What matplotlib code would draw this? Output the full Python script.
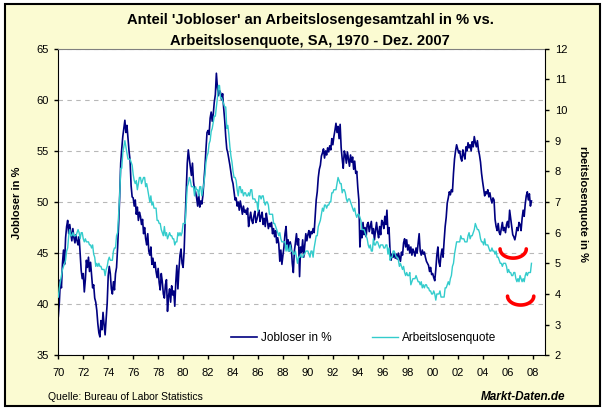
import numpy as np
import matplotlib
matplotlib.use('Agg')
import matplotlib.pyplot as plt
from matplotlib.patches import Rectangle
from matplotlib.transforms import Bbox, TransformedBbox

plt.rcParams['font.family'] = ['Liberation Sans', 'DejaVu Sans']

# Anteil 'Jobloser' an allen Arbeitslosen in %, monatlich Jan 1970 - Dez 2007
jobloser = [
    38.8, 40.2, 42.4, 41.6, 44.0, 45.3, 43.9, 46.5, 47.6, 48.2, 46.9, 47.8,  # 1970
    47.0, 46.2, 47.4, 46.5, 46.0, 46.8, 46.2, 45.8, 46.6, 44.9, 43.3, 42.5,  # 1971
    43.0, 41.2, 42.4, 44.3, 43.6, 44.6, 43.2, 44.1, 42.8, 41.6, 41.9, 40.6,  # 1972
    40.2, 39.4, 38.1, 37.2, 36.8, 38.4, 37.5, 39.2, 38.0, 37.0, 38.6, 40.1,  # 1973
    42.8, 43.7, 43.0, 41.5, 41.0, 42.2, 41.4, 43.0, 43.6, 45.5, 47.8, 50.5,  # 1974
    53.8, 55.2, 56.4, 57.2, 58.0, 56.8, 57.5, 56.2, 55.0, 54.1, 51.6, 50.5,  # 1975
    50.4, 49.6, 50.2, 48.8, 49.5, 48.2, 49.0, 48.6, 47.8, 48.3, 46.9, 47.5,  # 1976
    46.4, 45.8, 46.9, 45.2, 44.8, 45.6, 43.9, 44.5, 43.6, 44.1, 43.2, 42.6,  # 1977
    43.5, 42.1, 41.4, 43.0, 42.2, 41.0, 40.6, 41.9, 42.4, 39.3, 40.8, 41.5,  # 1978
    40.2, 41.8, 40.9, 41.3, 39.8, 42.2, 43.8, 41.5, 43.4, 44.8, 45.4, 44.0,  # 1979
    43.6, 45.2, 48.3, 51.0, 53.8, 55.1, 54.2, 53.4, 52.6, 53.8, 52.0, 51.2,  # 1980
    51.0, 50.4, 49.6, 50.8, 49.5, 50.1, 49.8, 50.6, 52.0, 53.4, 55.2, 56.8,  # 1981
    57.0, 56.6, 58.2, 58.8, 57.9, 58.6, 59.8, 60.5, 62.6, 61.2, 60.4, 60.9,  # 1982
    60.7, 60.0, 60.6, 59.2, 58.0, 56.4, 55.2, 54.8, 54.2, 53.6, 52.9, 52.2,  # 1983
    51.8, 51.0, 50.2, 50.4, 49.6, 50.0, 49.2, 50.1, 49.5, 48.8, 49.6, 49.0,  # 1984
    49.2, 48.8, 49.4, 47.6, 48.4, 49.0, 48.2, 47.9, 48.6, 49.1, 48.0, 48.3,  # 1985
    48.8, 49.2, 48.1, 48.6, 49.0, 47.8, 48.4, 47.6, 48.9, 48.2, 47.4, 47.9,  # 1986
    47.6, 48.0, 46.9, 47.4, 46.6, 47.2, 46.0, 46.5, 45.9, 44.2, 45.3, 43.9,  # 1987
    44.8, 45.6, 46.9, 47.6, 45.8, 46.3, 45.2, 46.1, 45.6, 44.0, 43.1, 45.2,  # 1988
    46.0, 46.9, 45.8, 46.4, 42.7, 45.6, 45.1, 46.3, 44.6, 45.8, 46.9, 46.2,  # 1989
    46.8, 47.2, 46.5, 47.1, 46.9, 47.4, 47.0, 48.6, 50.2, 51.0, 52.4, 53.2,  # 1990
    53.6, 54.5, 54.8, 55.2, 54.3, 55.0, 54.6, 55.3, 54.9, 55.5, 55.1, 56.2,  # 1991
    55.6, 56.4, 57.0, 57.7, 56.8, 57.4, 56.2, 57.6, 55.3, 54.2, 53.3, 55.0,  # 1992
    54.6, 53.8, 54.9, 54.2, 53.5, 54.6, 53.9, 54.4, 53.2, 54.0, 52.8, 53.0,  # 1993
    51.4, 50.2, 45.6, 47.2, 46.5, 48.0, 46.8, 47.5, 46.6, 47.8, 48.0, 47.1,  # 1994
    47.6, 48.1, 46.9, 47.4, 46.3, 47.2, 48.0, 47.1, 46.5, 47.6, 46.8, 48.2,  # 1995
    48.0, 47.4, 48.6, 47.8, 49.2, 46.9, 47.5, 45.2, 44.3, 44.9, 44.6, 45.0,  # 1996
    44.5, 44.9, 44.4, 45.0, 44.6, 44.2, 45.1, 44.8, 46.0, 46.4, 45.6, 46.3,  # 1997
    45.3, 45.8, 45.0, 45.6, 44.8, 45.4, 45.1, 44.7, 45.5, 45.0, 46.0, 46.9,  # 1998
    45.2, 44.8, 45.3, 44.9, 45.1, 44.6, 44.2, 44.0, 43.8, 43.2, 43.6, 42.9,  # 1999
    43.0, 42.6, 42.3, 43.4, 44.8, 45.6, 44.1, 43.7, 44.8, 45.4, 44.6, 46.2,  # 2000
    47.6, 48.5, 49.9, 50.4, 51.0, 50.7, 51.2, 51.0, 52.8, 54.2, 55.0, 55.6,  # 2001
    55.2, 54.8, 55.0, 54.3, 54.0, 55.1, 54.6, 54.2, 55.4, 55.0, 55.8, 55.3,  # 2002
    55.6, 55.0, 55.9, 55.4, 56.4, 55.8, 55.4, 56.0, 55.1, 54.6, 53.9, 52.8,  # 2003
    52.0, 51.3, 50.6, 51.0, 50.8, 51.2, 50.5, 50.9, 50.3, 49.9, 50.4, 50.2,  # 2004
    48.3, 47.6, 47.2, 47.9, 47.0, 46.8, 47.4, 48.0, 47.2, 47.5, 47.0, 47.8,  # 2005
    48.1, 47.5, 49.2, 48.4, 47.6, 46.8, 46.6, 46.3, 46.8, 47.5, 47.2, 48.0,  # 2006
    47.8, 47.2, 48.4, 49.2, 48.6, 49.8, 50.6, 51.0, 50.2, 50.8, 49.6, 50.1,  # 2007
]

# Arbeitslosenquote in %, SA, monatlich Jan 1970 - Dez 2007
quote = [
    3.9, 4.2, 4.4, 4.6, 4.8, 4.9, 5.0, 5.1, 5.4, 5.5, 5.9, 6.1,  # 1970
    5.9, 5.9, 6.0, 5.9, 5.9, 5.9, 6.0, 6.1, 6.0, 5.8, 6.0, 6.0,  # 1971
    5.8, 5.7, 5.8, 5.7, 5.7, 5.7, 5.6, 5.6, 5.5, 5.6, 5.3, 5.2,  # 1972
    4.9, 5.0, 4.9, 5.0, 4.9, 4.9, 4.8, 4.8, 4.8, 4.6, 4.8, 4.9,  # 1973
    5.1, 5.2, 5.1, 5.1, 5.1, 5.4, 5.5, 5.5, 5.9, 6.0, 6.6, 7.2,  # 1974
    8.1, 8.1, 8.6, 8.8, 9.0, 8.8, 8.6, 8.4, 8.4, 8.4, 8.3, 8.2,  # 1975
    7.9, 7.7, 7.6, 7.7, 7.4, 7.6, 7.8, 7.8, 7.6, 7.7, 7.8, 7.8,  # 1976
    7.5, 7.6, 7.4, 7.2, 7.0, 7.2, 6.9, 7.0, 6.8, 6.8, 6.8, 6.4,  # 1977
    6.4, 6.3, 6.3, 6.1, 6.0, 5.9, 6.2, 5.9, 6.0, 5.8, 5.9, 6.0,  # 1978
    5.9, 5.9, 5.8, 5.8, 5.6, 5.7, 5.7, 6.0, 5.9, 6.0, 5.9, 6.0,  # 1979
    6.3, 6.3, 6.3, 6.9, 7.5, 7.6, 7.8, 7.7, 7.5, 7.5, 7.5, 7.2,  # 1980
    7.5, 7.4, 7.4, 7.2, 7.5, 7.5, 7.2, 7.4, 7.6, 7.9, 8.3, 8.5,  # 1981
    8.6, 8.9, 9.0, 9.3, 9.4, 9.6, 9.8, 9.8, 10.1, 10.4, 10.8, 10.8,  # 1982
    10.4, 10.4, 10.3, 10.2, 10.1, 10.1, 9.4, 9.5, 9.2, 8.8, 8.5, 8.3,  # 1983
    8.0, 7.8, 7.8, 7.7, 7.4, 7.2, 7.5, 7.5, 7.3, 7.4, 7.2, 7.3,  # 1984
    7.3, 7.2, 7.2, 7.3, 7.2, 7.4, 7.4, 7.1, 7.1, 7.1, 7.0, 7.0,  # 1985
    6.7, 7.2, 7.2, 7.1, 7.2, 7.2, 7.0, 6.9, 7.0, 7.0, 6.9, 6.6,  # 1986
    6.6, 6.6, 6.6, 6.3, 6.3, 6.2, 6.1, 6.0, 5.9, 6.0, 5.8, 5.7,  # 1987
    5.7, 5.7, 5.7, 5.4, 5.6, 5.4, 5.4, 5.6, 5.4, 5.4, 5.3, 5.3,  # 1988
    5.4, 5.2, 5.0, 5.2, 5.2, 5.3, 5.2, 5.2, 5.3, 5.3, 5.4, 5.4,  # 1989
    5.4, 5.3, 5.2, 5.4, 5.4, 5.2, 5.5, 5.7, 5.9, 5.9, 6.2, 6.3,  # 1990
    6.4, 6.6, 6.8, 6.7, 6.9, 6.9, 6.8, 6.9, 6.9, 7.0, 7.0, 7.3,  # 1991
    7.3, 7.4, 7.4, 7.4, 7.6, 7.8, 7.7, 7.6, 7.6, 7.3, 7.4, 7.4,  # 1992
    7.3, 7.1, 7.0, 7.1, 7.1, 7.0, 6.9, 6.8, 6.7, 6.8, 6.6, 6.5,  # 1993
    6.6, 6.6, 6.5, 6.4, 6.1, 6.1, 6.1, 6.0, 5.9, 5.8, 5.6, 5.5,  # 1994
    5.6, 5.4, 5.4, 5.8, 5.6, 5.6, 5.7, 5.7, 5.6, 5.5, 5.6, 5.6,  # 1995
    5.6, 5.5, 5.5, 5.6, 5.6, 5.3, 5.5, 5.1, 5.2, 5.2, 5.4, 5.4,  # 1996
    5.3, 5.2, 5.2, 5.1, 4.9, 5.0, 4.9, 4.8, 4.9, 4.7, 4.6, 4.7,  # 1997
    4.6, 4.6, 4.7, 4.3, 4.4, 4.5, 4.5, 4.5, 4.6, 4.5, 4.4, 4.4,  # 1998
    4.3, 4.4, 4.2, 4.3, 4.2, 4.3, 4.3, 4.2, 4.2, 4.1, 4.1, 4.0,  # 1999
    4.0, 4.1, 4.0, 3.8, 4.0, 4.0, 4.0, 4.1, 3.9, 3.9, 3.9, 3.9,  # 2000
    4.2, 4.2, 4.3, 4.4, 4.3, 4.5, 4.6, 4.9, 5.0, 5.3, 5.5, 5.7,  # 2001
    5.7, 5.7, 5.7, 5.9, 5.8, 5.8, 5.8, 5.7, 5.7, 5.7, 5.9, 6.0,  # 2002
    5.8, 5.9, 5.9, 6.0, 6.1, 6.3, 6.2, 6.1, 6.1, 6.0, 5.8, 5.7,  # 2003
    5.7, 5.6, 5.8, 5.6, 5.6, 5.6, 5.5, 5.4, 5.4, 5.5, 5.4, 5.4,  # 2004
    5.3, 5.4, 5.2, 5.2, 5.1, 5.0, 5.0, 4.9, 5.0, 5.0, 5.0, 4.9,  # 2005
    4.7, 4.8, 4.7, 4.7, 4.6, 4.6, 4.7, 4.7, 4.5, 4.4, 4.5, 4.4,  # 2006
    4.6, 4.5, 4.4, 4.5, 4.4, 4.6, 4.7, 4.6, 4.7, 4.7, 4.7, 5.0,  # 2007
]

x_ticks = [1970, 1972, 1974, 1976, 1978, 1980, 1982, 1984, 1986, 1988,
           1990, 1992, 1994, 1996, 1998, 2000, 2002, 2004, 2006, 2008]
x_labels = ['70', '72', '74', '76', '78', '80', '82', '84', '86', '88',
            '90', '92', '94', '96', '98', '00', '02', '04', '06', '08']

# rote Markierungen (Jahr Mitte, oberer Rand auf rechter Achse, halbe Breite, Tiefe)
marks = [(2006.45, 5.47, 1.05, 0.30), (2007.05, 3.93, 1.05, 0.29)]

months = 1970 + np.arange(len(quote)) / 12.0

fig = plt.figure(figsize=(6.03, 4.12), dpi=100)
fig.patch.set_facecolor('white')
fig.patches.append(Rectangle((5 / 603, 6 / 412), 595 / 603, 402 / 412,
                             transform=fig.transFigure, facecolor='#FBFBD2',
                             edgecolor='black', lw=1.5, zorder=-1))

ax = fig.add_axes([0.0967, 0.1376, 0.8071, 0.7442])
ax.set_facecolor('white')
ax2 = ax.twinx()

l1, = ax.plot(months, jobloser, color='#000080', lw=1.2, label='Jobloser in %')
l2, = ax2.plot(months, quote, color='#33CCCC', lw=1.0, label='Arbeitslosenquote')

t = np.linspace(0, np.pi, 40)
for xc, ytop, a, b in marks:
    ax2.plot(xc + a * np.cos(t), ytop - b * np.sin(t), color='red', lw=2.6,
             solid_capstyle='round')

ax.set_xlim(1970, 2009)
ax.set_ylim(35, 65)
ax2.set_ylim(2, 12)
ax.set_yticks(range(35, 66, 5))
ax2.set_yticks(range(2, 13))
ax.set_xticks(x_ticks)
ax.set_xticklabels(x_labels)

ax.set_axisbelow(True)
ax.yaxis.grid(True, color='#B8B8B8', ls=(0, (4, 4)), lw=0.8)
ax.tick_params(direction='out', length=3, width=1, labelsize=8, pad=4, colors='black')
ax.tick_params(axis='x', pad=6)
ax2.tick_params(direction='out', length=3, width=1, labelsize=8, pad=4)

ax.spines['top'].set_color('#808080')
ax.spines['right'].set_visible(False)
for s in ['top', 'left', 'bottom']:
    ax2.spines[s].set_visible(False)

ax2.legend(handles=[l1, l2], loc='center', bbox_to_anchor=(0.628, 0.057), ncol=2,
           frameon=False, fontsize=8.5, handlelength=2.2, handletextpad=0.35,
           columnspacing=3.4)

fig.text(0.514, 0.951, "Anteil 'Jobloser' an Arbeitslosengesamtzahl in % vs.",
         ha='center', va='center', fontsize=10.6, fontweight='bold')
fig.text(0.514, 0.900, "Arbeitslosenquote, SA, 1970 - Dez. 2007",
         ha='center', va='center', fontsize=10.6, fontweight='bold')

fig.text(17 / 603, 1 - 203 / 412, 'Jobloser in %', rotation=90, ha='center',
         va='center', fontsize=8, fontweight='bold')
rl = fig.text(583 / 603, 1 - 200 / 412, 'Arbeitslosenquote in %', rotation=270,
              ha='center', va='center', fontsize=8, fontweight='bold')
rl.set_clip_box(TransformedBbox(Bbox([[0, 0], [1, 1 - 147 / 412]]), fig.transFigure))
rl.set_clip_on(True)

fig.text(48 / 603, 1 - 397 / 412, 'Quelle: Bureau of Labor Statistics',
         ha='left', va='center', fontsize=7.5)
fig.text(565 / 603, 1 - 397 / 412, 'Markt-Daten.de', ha='right', va='center',
         fontsize=8.5, fontweight='bold', fontstyle='italic')

fig.savefig('out.png', dpi=100)
